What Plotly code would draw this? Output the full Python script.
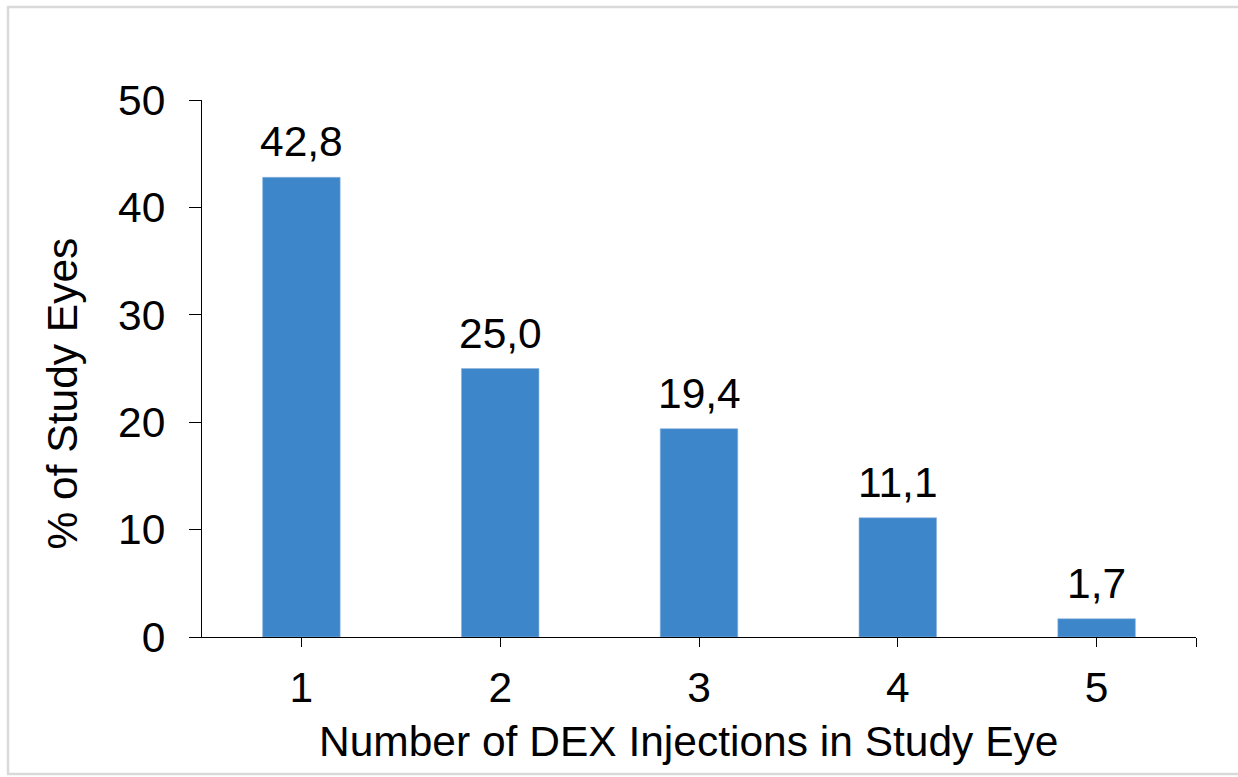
import plotly.graph_objects as go

categories = [1, 2, 3, 4, 5]
values = [42.8, 25.0, 19.4, 11.1, 1.7]
tick_vals = [1, 2, 3, 4, 5, 5.5]
tick_text = ["1", "2", "3", "4", "5", ""]
y_ticks = [0, 10, 20, 30, 40, 50]
x_title = "Number of DEX Injections in Study Eye"
y_title = "% of Study Eyes"

FONT = "Liberation Sans, Arial, sans-serif"
FS = 42.5
BAR_COLOR = "#3E86CA"

fig = go.Figure()
fig.add_trace(go.Bar(
    x=categories, y=values, width=0.39,
    marker=dict(color=BAR_COLOR, line=dict(color="#8DB6E0", width=0.6)),
    showlegend=False, hoverinfo="skip",
))

for c, v in zip(categories, values):
    fig.add_annotation(
        x=c, y=v, xref="x", yref="y", text=f"{v:.1f}".replace(".", ","),
        showarrow=False, yanchor="bottom", yshift=10,
        font=dict(family=FONT, size=FS, color="black"),
    )

# target plot-area box in page pixels (page margin removed via post_script)
L, T, R, B = 202, 100, 1196, 637
W, H = R - L, B - T
FIG_W, FIG_H = 1238, 777

# axis titles as annotations (allows fine positioning)
fig.add_annotation(xref="paper", yref="paper", x=0.5, y=0, xshift=-11, yshift=-104,
                   xanchor="center", yanchor="middle", showarrow=False, text=x_title,
                   font=dict(family=FONT, size=FS, color="black"))
fig.add_annotation(xref="paper", yref="paper", x=0, y=0.5, xshift=-140, yshift=-25,
                   xanchor="center", yanchor="middle", showarrow=False, text=y_title,
                   textangle=-90, font=dict(family=FONT, size=FS, color="black"))

# outer light-gray frame (right side runs off the page, as in the original)
fig.add_shape(type="rect", xref="paper", yref="paper",
              x0=(8 - L) / W, x1=(1320 - L) / W,
              y0=(B - 774) / H, y1=(B - 7) / H,
              line=dict(color="#D9D9D9", width=2.5), fillcolor="rgba(0,0,0,0)",
              layer="below")

fig.update_layout(
    width=FIG_W, height=FIG_H,
    margin=dict(l=L, r=FIG_W - R, t=T, b=FIG_H - B, pad=0),
    paper_bgcolor="white", plot_bgcolor="white",
    font=dict(family=FONT, size=FS, color="black"),
    bargap=0.6,
    xaxis=dict(
        range=[0.5, 5.5], tickmode="array", tickvals=tick_vals, ticktext=tick_text,
        showline=True, linecolor="black", linewidth=1.3,
        ticks="outside", ticklen=9, tickwidth=1.3, tickcolor="black",
        ticklabelstandoff=4,
        showgrid=False, zeroline=False,
        tickfont=dict(family=FONT, size=FS, color="black"),
    ),
    yaxis=dict(
        range=[0, 50], tickmode="array", tickvals=y_ticks,
        showline=True, linecolor="black", linewidth=1.3,
        ticks="outside", ticklen=12, tickwidth=1.3, tickcolor="black",
        ticklabelstandoff=15,
        showgrid=False, zeroline=False,
        tickfont=dict(family=FONT, size=FS, color="black"),
    ),
)

fig.write_html(
    "out.html",
    config={"displayModeBar": False},
    post_script="document.body.style.margin='0';document.body.style.overflow='hidden';",
)
